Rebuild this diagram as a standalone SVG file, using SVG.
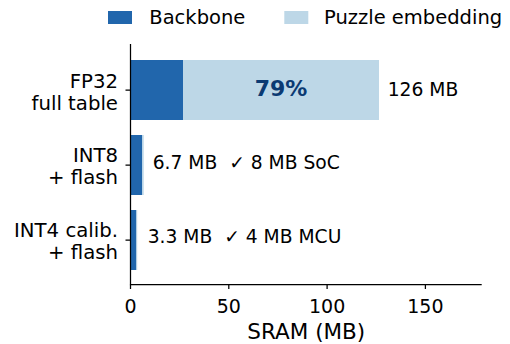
<svg xmlns="http://www.w3.org/2000/svg" width="510" height="344" viewBox="0 0 510 344">
<style>
text{font-family:"DejaVu Sans","Liberation Sans",sans-serif;fill:#000;font-size:19px}
.bb{fill:#2166ac}
.pz{fill:#bdd7e7}
.ax{stroke:#000;stroke-width:1.25;fill:none}
.lg{font-size:19.5px}
.yl{text-anchor:end;font-size:19.7px}
.xt{text-anchor:middle}
.val{font-size:18.7px}
.pre{white-space:pre}
.pct{fill:#0b3a73;font-size:22px;font-weight:bold;text-anchor:middle}
</style>
<rect width="510" height="344" fill="#fff"/>
<g id="legend">
<rect class="bb" x="108" y="11" width="24" height="13"/>
<text class="lg" x="149.3" y="24">Backbone</text>
<rect class="pz" x="284.3" y="11" width="24" height="13"/>
<text class="lg" x="324" y="24">Puzzle embedding</text>
</g>
<g id="bar-fp32">
<rect class="bb" x="130.5" y="60" width="52.5" height="60"/>
<rect class="pz" x="183" y="60" width="196" height="60"/>
<text class="pct" x="281" y="95.7">79%</text>
<text class="val" x="387.7" y="95.5">126 MB</text>
</g>
<g id="bar-int8">
<rect class="bb" x="130.5" y="135" width="11.8" height="60"/>
<rect class="pz" x="142.3" y="135" width="1.4" height="60"/>
<text class="val pre" x="152.7" y="168.5">6.7 MB  ✓ 8 MB SoC</text>
</g>
<g id="bar-int4">
<rect class="bb" x="130.5" y="210" width="5.9" height="60"/>
<rect class="pz" x="136.4" y="210" width="0.8" height="60"/>
<text class="val pre" x="147.7" y="243.3">3.3 MB  ✓ 4 MB MCU</text>
</g>
<g id="axes">
<path class="ax" d="M130.5 44V284.5H481.7"/>
<path class="ax" d="M125.5 90H130.5M125.5 165H130.5M125.5 240H130.5"/>
<path class="ax" d="M130.5 284.5V289M228.8 284.5V289M327.1 284.5V289M425.4 284.5V289"/>
<text class="yl" x="118" y="87.5">FP32</text>
<text class="yl" x="118" y="109.5">full table</text>
<text class="yl" x="118" y="162">INT8</text>
<text class="yl" x="118" y="184.3">+ flash</text>
<text class="yl" x="118" y="236.7">INT4 calib.</text>
<text class="yl" x="118" y="259">+ flash</text>
<text class="xt" x="130.5" y="312.5">0</text>
<text class="xt" x="228.8" y="312.5">50</text>
<text class="xt" x="327.1" y="312.5">100</text>
<text class="xt" x="425.4" y="312.5">150</text>
<text class="xt" x="306.3" y="338.5" style="font-size:21.5px">SRAM (MB)</text>
</g>
</svg>
